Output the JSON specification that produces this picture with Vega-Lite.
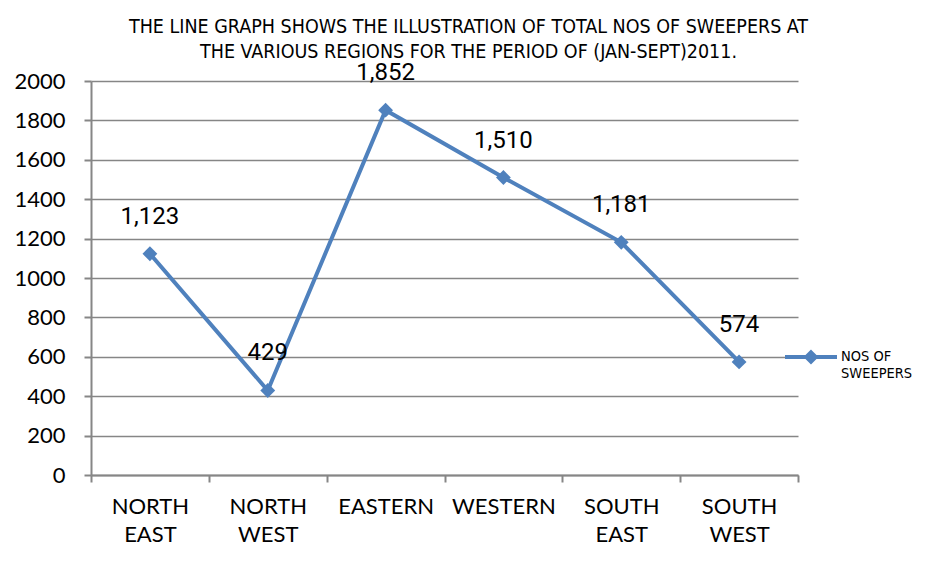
{
  "$schema": "https://vega.github.io/schema/vega-lite/v6.json",
  "width": 707,
  "height": 394,
  "autosize": {"type": "none"},
  "padding": {"left": 91, "top": 81, "right": 133, "bottom": 100},
  "background": "white",
  "config": {"view": {"stroke": null}, "font": "Lato"},
  "title": {
    "text": ["THE LINE GRAPH SHOWS THE ILLUSTRATION OF TOTAL NOS OF  SWEEPERS AT", "THE VARIOUS REGIONS FOR THE PERIOD OF (JAN-SEPT)2011."],
    "font": "DejaVu Sans Condensed",
    "fontSize": 19.5,
    "fontWeight": "normal",
    "lineHeight": 25,
    "color": "#000000",
    "anchor": "middle",
    "dx": 24,
    "offset": 20,
    "dy": 21
  },
  "data": {
    "values": [
      {"region": "NORTH EAST", "value": 1123, "label": "1,123", "series": "NOS OF SWEEPERS"},
      {"region": "NORTH WEST", "value": 429, "label": "429", "series": "NOS OF SWEEPERS"},
      {"region": "EASTERN", "value": 1852, "label": "1,852", "series": "NOS OF SWEEPERS"},
      {"region": "WESTERN", "value": 1510, "label": "1,510", "series": "NOS OF SWEEPERS"},
      {"region": "SOUTH EAST", "value": 1181, "label": "1,181", "series": "NOS OF SWEEPERS"},
      {"region": "SOUTH WEST", "value": 574, "label": "574", "series": "NOS OF SWEEPERS"}
    ]
  },
  "encoding": {
    "x": {
      "field": "region", "type": "nominal", "sort": null,
      "scale": {"paddingInner": 0, "paddingOuter": 0},
      "axis": {
        "title": null, "labelAngle": 0, "labelFontSize": 22, "labelColor": "#000000",
        "labelExpr": "split(datum.label, ' ')", "labelLineHeight": 28, "labelPadding": 14,
        "labelBaseline": "top",
        "domainColor": "#868686", "domainWidth": 2, "tickColor": "#868686", "tickWidth": 2, "tickSize": 7,
        "tickBand": "extent", "grid": false
      }
    },
    "y": {
      "field": "value", "type": "quantitative",
      "scale": {"domain": [0, 2000]},
      "axis": {
        "title": null, "values": [0, 200, 400, 600, 800, 1000, 1200, 1400, 1600, 1800, 2000],
        "format": "d",
        "labelFontSize": 22, "labelColor": "#000000", "labelPadding": 19,
        "domainColor": "#868686", "domainWidth": 2, "tickColor": "#868686", "tickWidth": 2, "tickSize": 7,
        "gridColor": "#868686", "gridWidth": 1.5
      }
    }
  },
  "layer": [
    {
      "mark": {"type": "line", "strokeWidth": 4},
      "encoding": {
        "color": {
          "field": "series", "type": "nominal",
          "scale": {"range": ["#4F81BD"]},
          "legend": {
            "title": null, "orient": "none", "legendX": 692, "legendY": 248,
            "symbolType": "M-1,0L1,0M0,-0.18L0.18,0L0,0.18L-0.18,0Z",
            "symbolSize": 2700, "symbolStrokeWidth": 4, "symbolFillColor": "#4F81BD",
            "labelFont": "DejaVu Sans Condensed", "labelFontSize": 14.5, "labelColor": "#000000",
            "labelExpr": "['NOS OF', 'SWEEPERS']", "labelLineHeight": 21, "labelOffset": 2
          }
        }
      }
    },
    {
      "mark": {"type": "point", "shape": "diamond", "filled": true, "opacity": 1, "size": 220, "color": "#4F81BD"}
    },
    {
      "mark": {"type": "text", "font": "Roboto", "fontSize": 24, "dy": -37, "color": "#000000"},
      "encoding": {"text": {"field": "label"}}
    }
  ]
}
